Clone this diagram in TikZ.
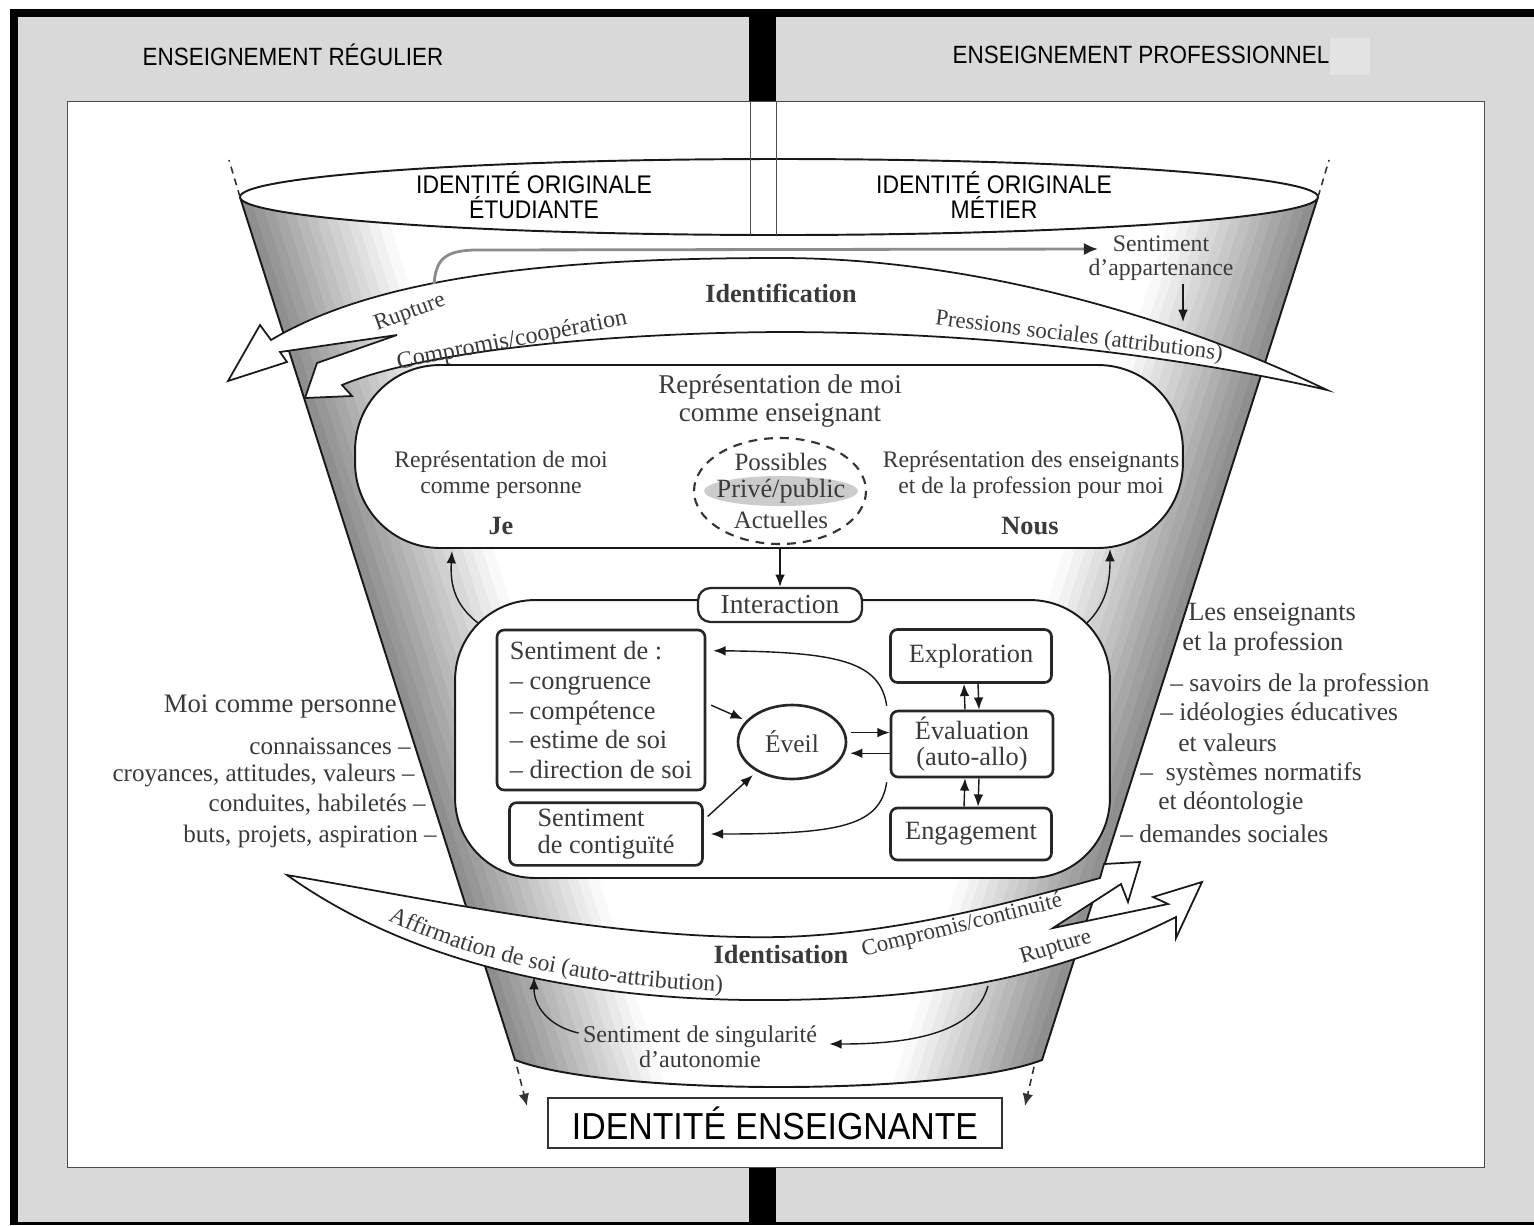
\documentclass[tikz,border=0pt]{standalone}
\usepackage{fontspec}
\setmainfont{Liberation Serif}
\newfontfamily\capsans[FakeStretch=0.9]{Liberation Sans}
\usetikzlibrary{arrows.meta,shapes.geometric,decorations.text}
\definecolor{panelgray}{HTML}{D9D9D9}
\definecolor{inkgray}{HTML}{3A3A3A}
\newcommand\fsz[2]{\fontsize{#1pt}{#2pt}\selectfont}
\tikzset{
  panelline/.style={draw=black!70, line width=0.5pt},
  funnelline/.style={draw=black!90, line width=1.1pt},
  ribbon/.style={fill=white, draw=black!90, line width=1pt, line join=miter},
  lbl/.style={text=inkgray, inner sep=0pt, align=center},
  caps/.style={text=black, inner sep=0pt, align=center},
  sbox/.style={draw=black!85, line width=1.5pt, rounded corners=4pt, fill=white, text=inkgray},
  arr/.style={draw=black!90, line width=0.8pt, -{Latex[length=7pt,width=5.5pt]}},
  dasharr/.style={draw=black!80, line width=0.9pt, dash pattern=on 4pt off 3pt},
}

\begin{document}
\begin{tikzpicture}[x=0.02cm, y=-0.02cm]
\useasboundingbox (0,0) rectangle (1534,1225);
% page, columns and headers
\fill[white] (0,0) rectangle (1534,1225);
\fill[black] (10,9) rectangle (1534,1225);
\fill[panelgray] (18,17) rectangle (1534,1222);
\fill[black] (749,17) rectangle (776,101);
\fill[black] (749,1167) rectangle (776,1222);
\fill[black!11] (1330,38) rectangle (1370,75);
\node[caps, font=\capsans\fsz{14.2}{16}] (Regulier) at (293,55) {ENSEIGNEMENT RÉGULIER};
\node[caps, font=\capsans\fsz{14.2}{16}] (Professionnel) at (1141,55) {ENSEIGNEMENT PROFESSIONNEL};
\filldraw[fill=white, panelline] (67,101) rectangle (1484,1167);

% funnel
\coordinate (TopL) at (240,197);
\coordinate (BotL) at (515,1060);
\coordinate (BotR) at (1042,1060);
\coordinate (TopR) at (1318,197);
\fill[white] (TopL) -- (BotL) .. controls (610,1096) and (948,1096) .. (BotR) -- (TopR) -- cycle;
\begin{scope}
  \clip (TopL) -- (BotL) .. controls (610,1096) and (948,1096) .. (BotR) -- (TopR) -- cycle;
  \foreach \i in {0,...,13}{
    \pgfmathsetmacro\tone{44-3.2*\i}
    \fill[black!\tone] (225+10*\i,150) -- (528+10*\i,1100) -- (539+10*\i,1100) -- (236+10*\i,150) -- cycle;
    \fill[black!\tone] (1333-10*\i,150) -- (1029-10*\i,1100) -- (1018-10*\i,1100) -- (1322-10*\i,150) -- cycle;
  }
\end{scope}
\draw[funnelline] (TopL) -- (BotL) .. controls (610,1096) and (948,1096) .. (BotR) -- (TopR);
\filldraw[fill=white, funnelline] (779,197) ellipse [x radius=539, y radius=38];
\draw[panelline] (750,101) -- (750,234.5) (776,101) -- (776,234.5);
\node[caps, font=\capsans\fsz{14.5}{14.2}] (Etudiante) at (534,195) {IDENTITÉ ORIGINALE\\ÉTUDIANTE};
\node[caps, font=\capsans\fsz{14.5}{14.2}] (Metier) at (994,195) {IDENTITÉ ORIGINALE\\MÉTIER};

\coordinate (DashTL) at (229,160);
\coordinate (DashTR) at (1329,160);
\coordinate (DashBL) at (517,1067);
\coordinate (DashBR) at (1034,1067);
\coordinate (DownL) at (527,1106);
\coordinate (DownR) at (1025,1106);
\draw[dasharr] (TopL) -- (DashTL);
\draw[dasharr] (TopR) -- (DashTR);
\draw[dasharr, -{Latex[length=7pt,width=6pt]}] (DashBL) -- (DownL);
\draw[dasharr, -{Latex[length=7pt,width=6pt]}] (DashBR) -- (DownR);

% upper ribbon
\coordinate (UpTip) at (1327,390);
\filldraw[ribbon] (UpTip) .. controls (1150,305) and (950,258) .. (780,258)
  .. controls (560,258) and (380,275) .. (271,340)
  -- (260,325) -- (228,381) -- (287,362) -- (280,352) -- (397,335)
  -- (317,363) -- (305,398) -- (352,396) -- (342,385)
  .. controls (420,352) and (600,333) .. (780,332)
  .. controls (1000,332) and (1200,360) .. (UpTip) -- cycle;
\node[lbl, font=\bfseries\fsz{14.9}{17}] (Identification) at (781,293) {Identification};
\node[lbl, font=\fsz{13}{15}, rotate=20] (RuptureUp) at (410,313) {Rupture};
\node[lbl, font=\fsz{13.7}{15}, rotate=11] (CompromisUp) at (512,341) {Compromis/coopération};
\node[lbl, font=\fsz{13}{15}, rotate=-7] (Pressions) at (1079,337) {Pressions sociales (attributions)};

\node[lbl, font=\fsz{13.5}{13.7}] (Appartenance) at (1161,258) {Sentiment\\d'appartenance};
\coordinate (ThinStart) at (434,284);
\coordinate (ThinEnd) at (1098,249);
\coordinate (AppTop) at (1183,284);
\coordinate (AppBot) at (1183,322);
\draw[draw=black!45, line width=1.6pt, -{Latex[length=8pt,width=7pt,color=black!85]}]
  (ThinStart) .. controls (436,260) and (444,251) .. (474,250) -- (ThinEnd);
\draw[arr] (AppTop) -- (AppBot);

% representation
\node[draw=black!90, line width=1.1pt, fill=white, rounded corners=1.7cm,
  minimum width=16.56cm, minimum height=3.66cm, inner sep=0pt] (Represent) at (769,456.5) {};
\node[lbl, font=\fsz{15.4}{16.5}] (MoiEns) at (780,401) {Représentation de moi\\comme enseignant};
\node[lbl, font=\fsz{13.5}{14.8}] (MoiPersRep) at (501,475) {Représentation de moi\\comme personne};
\node[lbl, font=\fsz{13.5}{14.8}] (EnsRep) at (1031,475) {Représentation des enseignants\\et de la profession pour moi};
\node[lbl, font=\bfseries\fsz{15}{17}] (Je) at (501,526) {Je};
\node[lbl, font=\bfseries\fsz{15}{17}] (Nous) at (1030,526) {Nous};
\fill[black!20] (781,491) ellipse [x radius=77, y radius=15];
\draw[black!80, line width=1.2pt, dash pattern=on 5pt off 4pt] (780,491) ellipse [x radius=86, y radius=53];
\node[lbl, font=\fsz{14.2}{16}] (Possibles) at (781,462) {Possibles};
\node[lbl, font=\fsz{15}{16}] (Prive) at (781,491) {Privé/public};
\node[lbl, font=\fsz{14.2}{16}] (Actuelles) at (781,520) {Actuelles};

% interaction
\node[draw=black!90, line width=1.1pt, fill=white, rounded corners=1.6cm,
  minimum width=13.1cm, minimum height=5.56cm, inner sep=0pt] (InterZone) at (782.5,739) {};
\node[sbox, rounded corners=0.25cm, line width=1.3pt, minimum width=3.28cm, minimum height=0.68cm,
  font=\fsz{15.6}{17}] (Interaction) at (780,605) {Interaction};
\draw[arr] (Represent.south -| Interaction.north) -- (Interaction.north);
\coordinate (LiftL0) at (478,623);
\coordinate (LiftL1) at (452,551);
\coordinate (LiftR0) at (1087,623);
\coordinate (LiftR1) at (1110,549);
\draw[arr] (LiftL0) .. controls (455,605) and (450,585) .. (LiftL1);
\draw[arr] (LiftR0) .. controls (1105,605) and (1110,585) .. (LiftR1);

\node[sbox, minimum width=4.16cm, minimum height=3.2cm, align=left, font=\fsz{15}{16.8}] (Sentiment) at (601,710)
  {Sentiment de :\\– congruence\\– compétence\\– estime de soi\\– direction de soi};
\node[sbox, minimum width=3.86cm, minimum height=1.24cm, align=left, font=\fsz{15}{15.8}] (Contiguite) at (606,834)
  {Sentiment\\de contiguïté};
\node[draw=black!85, line width=1.5pt, ellipse, fill=white, text=inkgray, inner sep=0pt,
  minimum width=2.16cm, minimum height=1.48cm, font=\fsz{14.5}{16}] (Eveil) at (792,742) {Éveil};
\node[sbox, minimum width=3.22cm, minimum height=1.06cm, font=\fsz{15}{17}] (Exploration) at (971,656) {Exploration};
\node[sbox, minimum width=3.24cm, minimum height=1.28cm, align=center, font=\fsz{15}{14.8}] (Evaluation) at (972,744) {Évaluation\\(auto-allo)};
\node[sbox, minimum width=3.22cm, minimum height=1.04cm, font=\fsz{15}{17}] (Engagement) at (971,834) {Engagement};

\draw[arr] ([xshift=-0.14cm]Evaluation.north) -- ([xshift=-0.14cm]Exploration.south);
\draw[arr] ([xshift=0.14cm]Exploration.south) -- ([xshift=0.14cm]Evaluation.north);
\draw[arr] ([xshift=-0.14cm]Engagement.north) -- ([xshift=-0.14cm]Evaluation.south);
\draw[arr] ([xshift=0.14cm]Evaluation.south) -- ([xshift=0.14cm]Engagement.north);
\draw[arr, shorten <=3pt] (Eveil.10) -- (Eveil.10 -| Evaluation.west);
\draw[arr, shorten >=3pt] (Eveil.-12 -| Evaluation.west) -- (Eveil.-12);
\draw[arr, shorten <=3pt, shorten >=2pt] ([yshift=0.14cm]Sentiment.east) -- (Eveil.155);
\draw[arr, shorten <=3pt, shorten >=3pt] ([yshift=0.28cm]Contiguite.east) -- (Eveil.-140);
\draw[arr] ([xshift=-0.06cm,yshift=0.08cm]Evaluation.north west) .. controls (880,662) and (840,652)
  .. ([xshift=0.14cm,yshift=-0.44cm]Sentiment.north east);
\draw[arr] ([xshift=-0.06cm,yshift=-0.08cm]Evaluation.south west) .. controls (880,826) and (840,834)
  .. ([xshift=0.14cm]Contiguite.east);

% side texts
\node[lbl, anchor=east, font=\fsz{15.2}{17}] (MoiPers) at (397,706) {Moi comme personne};
\node[lbl, anchor=east, font=\fsz{14.3}{16}] (Connaissances) at (411,746) {connaissances –};
\node[lbl, anchor=east, font=\fsz{14.3}{16}] (Croyances) at (415,775) {croyances, attitudes, valeurs –};
\node[lbl, anchor=east, font=\fsz{14.3}{16}] (Conduites) at (426,805) {conduites, habiletés –};
\node[lbl, anchor=east, font=\fsz{14.3}{16}] (Buts) at (437,836) {buts, projets, aspiration –};

\node[lbl, anchor=west, font=\fsz{15}{17}] (LesEns) at (1188,615) {Les enseignants};
\node[lbl, anchor=west, font=\fsz{15}{17}] (EtProf) at (1182,644) {et la profession};
\node[lbl, anchor=west, font=\fsz{14.5}{16}] (Savoirs) at (1170,685) {– savoirs de la profession};
\node[lbl, anchor=west, font=\fsz{14.5}{16}] (Ideologies) at (1160,714) {– idéologies éducatives};
\node[lbl, anchor=west, font=\fsz{14.5}{16}] (Valeurs) at (1178,743) {et valeurs};
\node[lbl, anchor=west, font=\fsz{14.5}{16}] (Systemes) at (1140,774) {–\ \ systèmes normatifs};
\node[lbl, anchor=west, font=\fsz{14.5}{16}] (Deontologie) at (1158,803) {et déontologie};
\node[lbl, anchor=west, font=\fsz{14.5}{16}] (Demandes) at (1120,834) {– demandes sociales};

% lower ribbon
\coordinate (LowTip) at (287,875);
\filldraw[ribbon] (LowTip) .. controls (450,903) and (620,940) .. (780,937)
  .. controls (900,934) and (1020,900) .. (1100,878)
  -- (1104,864) -- (1140,862) -- (1128,902) -- (1121,884) -- (1053,928)
  -- (1168,904) -- (1153,897) -- (1202,882) -- (1176,938) -- (1176,917)
  .. controls (1040,985) and (920,998) .. (780,1000)
  .. controls (600,1002) and (420,970) .. (LowTip) -- cycle;
\node[lbl, font=\bfseries\fsz{15}{17}] (Identisation) at (781,954) {Identisation};
\node[lbl, font=\fsz{13}{15}, rotate=14] (CompromisLow) at (962,926) {Compromis/continuité};
\node[lbl, font=\fsz{13}{15}, rotate=17] (RuptureLow) at (1056,948) {Rupture};
\path[decorate, decoration={text along path, text align=left,
  text={|\fsz{13.5}{15}\color{inkgray}|Affirmation de soi (auto-attribution)}}]
  (388,920) .. controls (470,960) and (590,988) .. (738,992);

\node[lbl, font=\fsz{13.7}{14.2}] (Singularite) at (700,1047) {Sentiment de singularité\\d'autonomie};
\coordinate (SingUp) at (534,977);
\coordinate (SingDown) at (988,986);
\draw[arr] ([xshift=-0.08cm,yshift=0.28cm]Singularite.west) .. controls (548,1026) and (534,1006) .. (SingUp);
\draw[arr] (SingDown) .. controls (975,1032) and (915,1044) .. ([xshift=0.24cm,yshift=0.06cm]Singularite.east);

\node[draw=black!80, line width=0.8pt, fill=white, minimum width=9.08cm, minimum height=1cm,
  font=\capsans\fsz{21.4}{24}] (Identite) at (775,1123) {IDENTITÉ ENSEIGNANTE};
\end{tikzpicture}
\end{document}
